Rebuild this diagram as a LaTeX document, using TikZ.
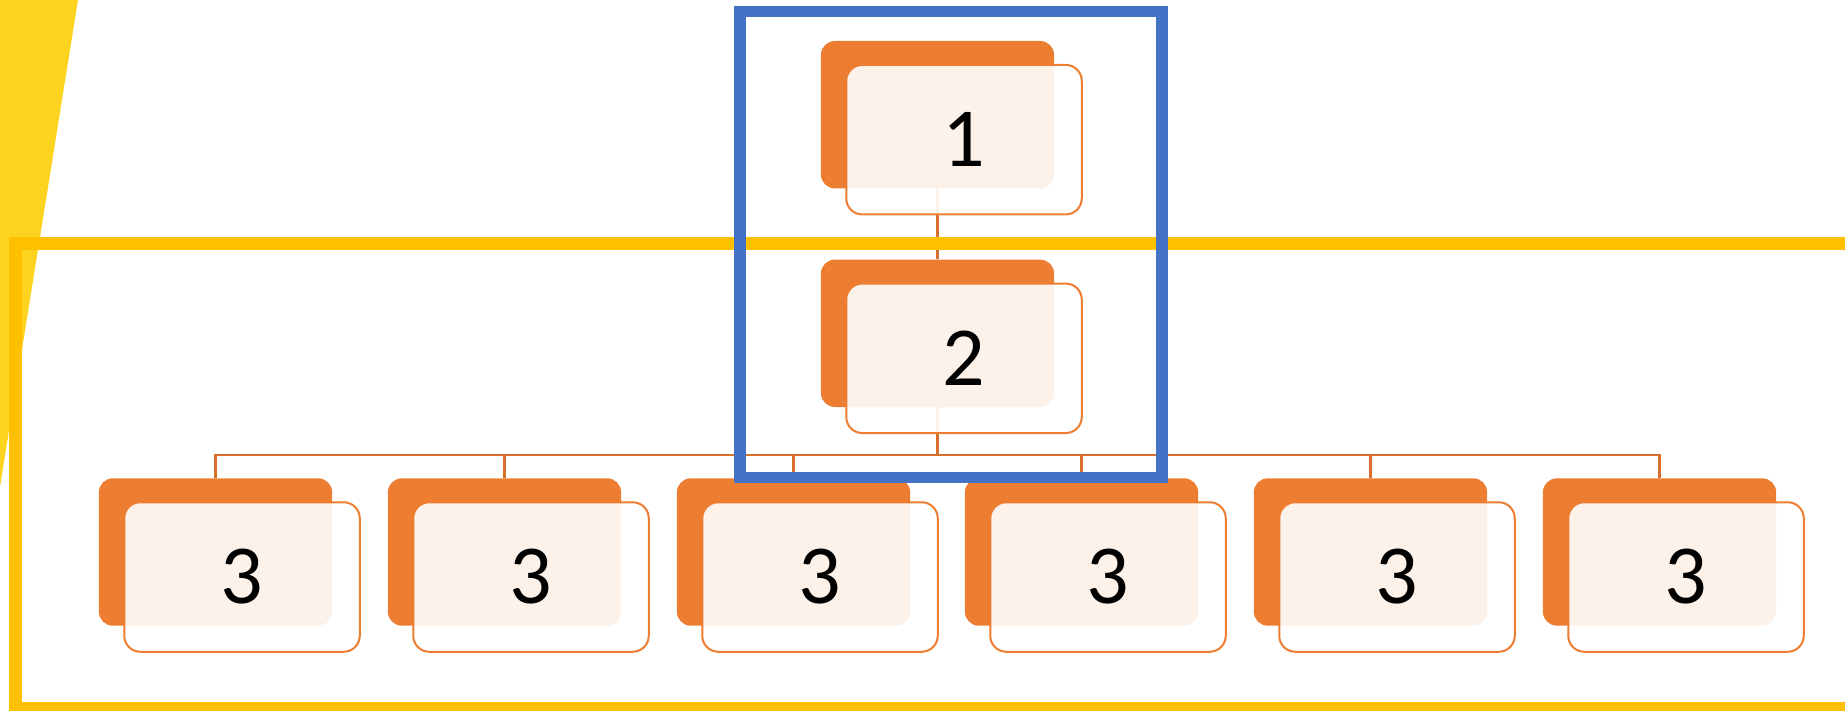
\documentclass[tikz,border=0pt]{standalone}
\usepackage{fontspec}
\setmainfont{Carlito}
\definecolor{orng}{HTML}{ED7D31}
\definecolor{conn}{RGB}{214,112,44}
\definecolor{ylw}{HTML}{FFC000}
\definecolor{tri}{HTML}{FCD41F}
\definecolor{blu}{HTML}{4472C4}
\begin{document}
\begin{tikzpicture}[x=1pt,y=-1pt,
  back/.style={fill=orng, rounded corners=14pt, minimum width=233.3pt, minimum height=147.4pt, inner sep=0pt},
  front/.style={fill=white, fill opacity=0.9, text opacity=1, draw=orng, line width=2pt, rounded corners=16pt, minimum width=235.5pt, minimum height=149.5pt, inner sep=0pt, font=\fontsize{84}{90}\selectfont},
  link/.style={draw=conn, line width=2.3pt},
  yframe/.style={draw=ylw, line width=12.7pt},
  bframe/.style={draw=blu, line width=11.7pt}]
\useasboundingbox (0,0) rectangle (1845,711);
\clip (0,0) rectangle (1845,711);
% yellow triangle
\fill[tri] (0,0) -- (78,0) -- (0,487) -- cycle;
% back rectangles
\node[back] (k1) at (937.5,114.7) {};
\node[back] (k2) at (937.5,333.3) {};
\foreach \i/\x in {a/215.5, b/504.5, c/793.5, d/1081.5, e/1370.5, f/1659.5}
  \node[back] (k3\i) at (\x,552) {};
% connectors
\coordinate (bus) at (937.5,454.7);
\draw[link] (k1.south) -- (k2.north);
\draw[link] (k2.south) -- (bus);
\draw[link] (k3a.north) |- (bus) -| (k3f.north);
\foreach \i in {b,c,d,e}
  \draw[link] (k3\i.north) -- (k3\i.north |- bus);
% front boxes
\node[front] (f1) at ([shift={(26.5,25)}]k1.center) {1};
\node[front] (f2) at ([shift={(26.5,25)}]k2.center) {2};
\foreach \i in {a,b,c,d,e,f}
  \node[front] (f3\i) at ([shift={(26.5,25)}]k3\i.center) {3};
% frames
\draw[yframe] (15.7,243.3) rectangle (1900,708.3);
\draw[bframe] (740.2,11.5) rectangle (1161.8,477.5);
\end{tikzpicture}
\end{document}
